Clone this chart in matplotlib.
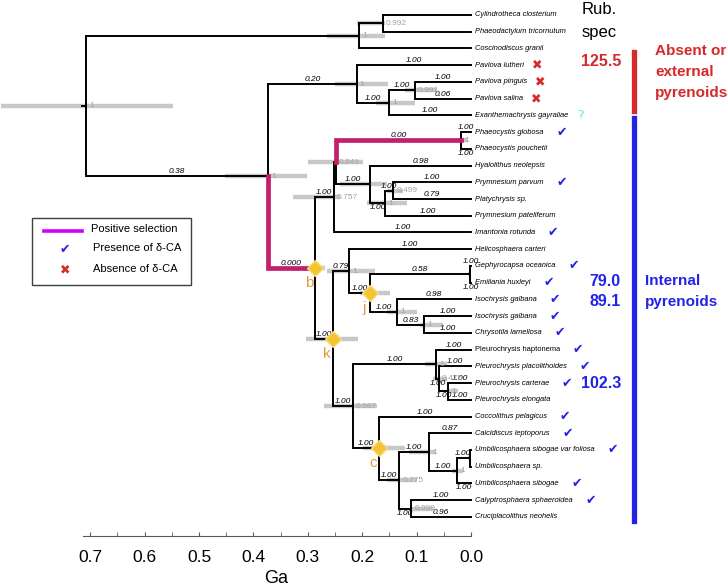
import matplotlib.pyplot as plt
from matplotlib.patches import Rectangle
from matplotlib.lines import Line2D

# ---- data -------------------------------------------------------------
leaves = ['Cylindrotheca closterium', 'Phaeodactylum tricornutum', 'Coscinodiscus granii',
          'Pavlova lutheri', 'Pavlova pinguis', 'Pavlova salina', 'Exanthemachrysis gayraliae',
          'Phaeocystis globosa', 'Phaeocystis pouchetii', 'Hyalolithus neolepsis',
          'Prymnesium parvum', 'Platychrysis sp.', 'Prymnesium pateliferum', 'Imantonia rotunda',
          'Helicosphaera carteri', 'Gephyrocapsa oceanica', 'Emiliania huxleyi',
          'Isochrysis galbana', 'Isochrysis galbana', 'Chrysotila lamellosa',
          'Pleurochrysis haptonema', 'Pleurochrysis placolithoides', 'Pleurochrysis carterae',
          'Pleurochrysis elongata', 'Coccolithus pelagicus', 'Calcidiscus leptoporus',
          'Umbilicosphaera sibogae var foliosa', 'Umbilicosphaera sp.', 'Umbilicosphaera sibogae',
          'Calyptrosphaera sphaeroidea', 'Cruciplacolithus neohelis']
upright_leaves = [20]

# internal nodes: children are leaf indices or node names
children = {
    'root': ['diatoms', 'hapto'],
    'diatoms': ['cyl_pha', 2],
    'cyl_pha': [0, 1],
    'hapto': ['pavlova', 'b'],
    'pavlova': [3, 'pav_exa'],
    'pav_exa': ['pin_sal', 6],
    'pin_sal': [4, 5],
    'b': ['a', 'k'],
    'a': ['phaeo_prym', 13],
    'phaeo_prym': ['phaeocystis', 'prym'],
    'phaeocystis': [7, 8],
    'prym': [9, 'prym2'],
    'prym2': ['prym3', 12],
    'prym3': [10, 11],
    'k': ['hel_iso', 'cocc_all'],
    'hel_iso': [14, 'j'],
    'j': ['geph_emil', 'isoch'],
    'geph_emil': [15, 16],
    'isoch': [17, 'isoch_chry'],
    'isoch_chry': [18, 19],
    'cocc_all': ['pleuro', 'c'],
    'pleuro': [20, 'pleuro2'],
    'pleuro2': [21, 'pleuro3'],
    'pleuro3': [22, 23],
    'c': [24, 'umb_cal'],
    'umb_cal': ['calc_umb', 'caly_cruc'],
    'calc_umb': [25, 'umbil'],
    'umbil': ['umbil2', 28],
    'umbil2': [26, 27],
    'caly_cruc': [29, 30],
}

# node ages (Ga)
age = {
    'root': 0.708, 'diatoms': 0.206, 'cyl_pha': 0.162, 'hapto': 0.373, 'pavlova': 0.210,
    'pav_exa': 0.151, 'pin_sal': 0.103, 'b': 0.287, 'a': 0.252, 'phaeo_prym': 0.248,
    'phaeocystis': 0.018, 'prym': 0.186, 'prym2': 0.158, 'prym3': 0.143, 'k': 0.254,
    'hel_iso': 0.224, 'j': 0.186, 'geph_emil': 0.002, 'isoch': 0.136, 'isoch_chry': 0.086,
    'cocc_all': 0.217, 'pleuro': 0.064, 'pleuro2': 0.059, 'pleuro3': 0.042, 'c': 0.169,
    'umb_cal': 0.132, 'calc_umb': 0.077, 'umbil': 0.026, 'umbil2': 0.002, 'caly_cruc': 0.110,
}
root_stem_age = 0.715

# 95% HPD intervals (Ga)
hpd = {
    'root': (0.548, 0.864), 'diatoms': (0.158, 0.265), 'cyl_pha': (0.158, 0.210),
    'hapto': (0.301, 0.452), 'pavlova': (0.153, 0.250), 'pav_exa': (0.103, 0.175),
    'pin_sal': (0.063, 0.121), 'b': (0.268, 0.305), 'a': (0.240, 0.327),
    'phaeo_prym': (0.199, 0.300), 'phaeocystis': (0.007, 0.020), 'prym': (0.154, 0.241),
    'prym2': (0.118, 0.191), 'prym3': (0.125, 0.155), 'k': (0.208, 0.303),
    'hel_iso': (0.176, 0.265), 'j': (0.149, 0.204), 'geph_emil': (0.0, 0.006),
    'isoch': (0.099, 0.154), 'isoch_chry': (0.051, 0.094), 'cocc_all': (0.173, 0.270),
    'pleuro': (0.044, 0.085), 'pleuro2': (0.044, 0.070), 'pleuro3': (0.024, 0.042),
    'c': (0.121, 0.199), 'umb_cal': (0.099, 0.154), 'calc_umb': (0.066, 0.114),
    'umbil': (0.015, 0.035), 'umbil2': (0.0, 0.005), 'caly_cruc': (0.070, 0.112),
}

# posterior probabilities (grey, at nodes)
posterior = {
    'root': '1', 'diatoms': '1', 'cyl_pha': '0.992', 'hapto': '1', 'pavlova': '1',
    'pav_exa': '1', 'pin_sal': '0.991', 'a': '0.757', 'phaeo_prym': '0.841',
    'phaeocystis': '1', 'prym2': '1', 'prym3': '0.499', 'k': '1', 'hel_iso': '1',
    'isoch': '1', 'isoch_chry': '1', 'cocc_all': '0.987', 'pleuro': '1', 'pleuro2': '0.475',
    'pleuro3': '1', 'c': '1', 'umb_cal': '0.775', 'calc_umb': '1', 'umbil': '1',
    'caly_cruc': '0.999',
}

# selection values on branches (keyed by the child of the branch)
branch_value = {
    'hapto': '0.38', 'pavlova': '0.20', 3: '1.00', 'pav_exa': '1.00', 'pin_sal': '1.00',
    4: '1.00', 5: '0.06', 6: '1.00', 'b': '0.000', 'a': '1.00', 'phaeocystis': '0.00',
    7: '1.00', 8: '1.00', 'prym': '1.00', 9: '0.98', 'prym2': '1.00', 'prym3': '1.00',
    10: '1.00', 11: '0.79', 12: '1.00', 13: '1.00', 'k': '1.00', 'hel_iso': '0.79',
    14: '1.00', 'j': '1.00', 'geph_emil': '0.58', 15: '1.00', 16: '1.00', 'isoch': '1.00',
    17: '0.98', 'isoch_chry': '0.83', 18: '1.00', 19: '1.00', 'cocc_all': '1.00',
    'pleuro': '1.00', 20: '1.00', 'pleuro2': '1.00', 21: '1.00', 'pleuro3': '1.00',
    22: '1.00', 23: '1.00', 'c': '1.00', 24: '1.00', 'umb_cal': '1.00', 'calc_umb': '1.00',
    25: '0.87', 'umbil': '1.00', 'umbil2': '1.00', 28: '1.00', 'caly_cruc': '1.00',
    29: '1.00', 30: '0.96',
}
positive_selection = ['b', 'phaeocystis']
calibrated = ['b', 'j', 'k', 'c']

# delta-CA status per leaf: 'yes', 'no', 'unknown'
delta_ca = {3: 'no', 4: 'no', 5: 'no', 6: 'unknown', 7: 'yes', 10: 'yes', 13: 'yes',
            15: 'yes', 16: 'yes', 17: 'yes', 18: 'yes', 19: 'yes', 20: 'yes', 21: 'yes',
            22: 'yes', 24: 'yes', 25: 'yes', 26: 'yes', 28: 'yes', 29: 'yes'}

rub_absent = ['125.5']
rub_internal = ['79.0', '89.1']
rub_pleuro = ['102.3']

ticks_ga = [0.7, 0.6, 0.5, 0.4, 0.3, 0.2, 0.1, 0.0]

# ---- style --------------------------------------------------------------
W, H = 728, 588
PINK = '#C2206C'
GREY = '#C8C8C8'
BLUE = '#2323E6'
RED = '#D42A2A'
label_below = [8, 16, 28, 'prym2', 'pleuro2', 'pleuro3', 'caly_cruc']
plt.rcParams['font.family'] = ['Liberation Sans', 'DejaVu Sans']

fig = plt.figure(figsize=(W / 100, H / 100), dpi=100)
ax = fig.add_axes([0, 0, 1, 1])
ax.set_xlim(471 / 544, (471 - W) / 544)
ax.set_ylim((H - 15) / 16.73, -15 / 16.73)


def fx(px):
    return px / W


def fy(py):
    return 1 - py / H


# ---- layout of the tree -------------------------------------------------
ypos = {}
xpos = {}


def place(n):
    if isinstance(n, int):
        ypos[n] = n
        xpos[n] = 0.0
        return n
    ys = [place(c) for c in children[n]]
    ypos[n] = (ys[0] + ys[-1]) / 2
    xpos[n] = age[n]
    return ypos[n]


place('root')

# hpd bars
for n, (lo, hi) in hpd.items():
    ax.plot([hi, lo], [ypos[n], ypos[n]], color=GREY, lw=3.2, solid_capstyle='butt', zorder=1)

# root stem
ax.plot([root_stem_age, age['root']], [ypos['root']] * 2, color='black', lw=1.4, zorder=2)

# branches
for p, kids in children.items():
    for c in kids:
        pink = c in positive_selection
        ax.plot([xpos[p], xpos[p], xpos[c]], [ypos[p], ypos[c], ypos[c]],
                color=PINK if pink else 'black', lw=3.4 if pink else 1.4,
                solid_joinstyle='miter', zorder=3 if pink else 2)
        if c in branch_value:
            below = c in label_below
            ax.annotate(branch_value[c], ((xpos[p] + xpos[c]) / 2, ypos[c]),
                        xytext=(0, -1 if below else 1), textcoords='offset pixels',
                        ha='center', va='top' if below else 'bottom',
                        fontsize=6, style='italic', zorder=4)

# posterior labels
for n, v in posterior.items():
    ax.annotate(v, (xpos[n], ypos[n]), xytext=(3, 0), textcoords='offset pixels',
                ha='left', va='center', fontsize=6, color='#A3A3A3', zorder=4)

# calibration diamonds
for n in calibrated:
    ax.plot(xpos[n], ypos[n], marker='D', ms=8.5, color='#F4C430', mec='#F8DA80',
            mew=1, zorder=6)
    ax.annotate(n, (xpos[n], ypos[n]), xytext=(-6, -15), textcoords='offset pixels',
                ha='center', va='center', fontsize=11, color='#E39A3B', zorder=6)

# leaf labels and delta-CA marks
symbols = {'yes': ('\u2714', BLUE, 18), 'no': ('\u2716', RED, 13), 'unknown': ('?', '#5EE6F2', 12)}
for i, name in enumerate(leaves):
    t = ax.annotate(name, (0, i), xytext=(4, 0), textcoords='offset pixels',
                    ha='left', va='center', fontsize=5.4,
                    style='normal' if i in upright_leaves else 'italic')
    if i in delta_ca:
        s, col, off = symbols[delta_ca[i]]
        ax.annotate(s, xy=(1, 0.5), xycoords=t, xytext=(off, 0), textcoords='offset pixels',
                    ha='center', va='center', fontsize=9, color=col,
                    family=['DejaVu Sans'])

# ---- time axis -----------------------------------------------------------
for s in ['top', 'left', 'right']:
    ax.spines[s].set_visible(False)
ax.spines['bottom'].set_position(('data', (536 - 15) / 16.73))
ax.spines['bottom'].set_bounds(0.714, 0.0)
ax.spines['bottom'].set_color('#595959')
ax.set_xticks(ticks_ga)
ax.set_xticklabels([f'{v:.1f}' for v in ticks_ga])
ax.set_xticks([0.65, 0.55, 0.45, 0.35, 0.25, 0.15, 0.05], minor=True)
ax.tick_params(axis='x', which='both', direction='in', length=3, color='#595959',
               labelsize=12.5, pad=10)
ax.set_yticks([])
ax.text(0.358, (578 - 15) / 16.73, 'Ga', ha='center', va='center', fontsize=13)

# ---- group annotations on the right -------------------------------------
fig.text(fx(582), fy(10), 'Rub.', ha='left', va='center', fontsize=12)
fig.text(fx(582), fy(33), 'spec', ha='left', va='center', fontsize=12)
fig.text(fx(621), fy(62), rub_absent[0], ha='right', va='center', fontsize=11.5,
         weight='bold', color=RED)
for k, line in enumerate(['Absent or', 'external', 'pyrenoids']):
    fig.text(fx(655), fy(51 + 21 * k), line, ha='left', va='center', fontsize=11,
             weight='bold', color=RED)
for k, v in enumerate(rub_internal):
    fig.text(fx(621), fy(282 + 19 * k), v, ha='right', va='center', fontsize=11.5,
             weight='bold', color=BLUE)
fig.text(fx(621), fy(383), rub_pleuro[0], ha='right', va='center', fontsize=11.5,
         weight='bold', color=BLUE)
for k, line in enumerate(['Internal', 'pyrenoids']):
    fig.text(fx(645), fy(281 + 21 * k), line, ha='left', va='center', fontsize=11,
             weight='bold', color=BLUE)
fig.add_artist(Line2D([fx(634)] * 2, [fy(52), fy(111)], color=RED, lw=3.8))
fig.add_artist(Line2D([fx(634)] * 2, [fy(118), fy(521)], color=BLUE, lw=3.8))

# ---- legend ---------------------------------------------------------------
fig.add_artist(Rectangle((fx(32), fy(285)), (191 - 32) / W, (285 - 218) / H,
                         transform=fig.transFigure, fill=False, ec='#3f3f3f', lw=1))
fig.add_artist(Line2D([fx(44), fx(82)], [fy(231)] * 2, color='#CC00FF', lw=2.6))
fig.text(fx(91), fy(229), 'Positive selection', ha='left', va='center', fontsize=8)
fig.text(fx(65), fy(250), '\u2714', ha='center', va='center', fontsize=9, color=BLUE,
         family=['DejaVu Sans'])
fig.text(fx(93), fy(248), 'Presence of \u03b4-CA', ha='left', va='center', fontsize=8)
fig.text(fx(65), fy(270), '\u2716', ha='center', va='center', fontsize=9, color=RED,
         family=['DejaVu Sans'])
fig.text(fx(93), fy(269), 'Absence of \u03b4-CA', ha='left', va='center', fontsize=8)

fig.savefig('out.png', dpi=100)
